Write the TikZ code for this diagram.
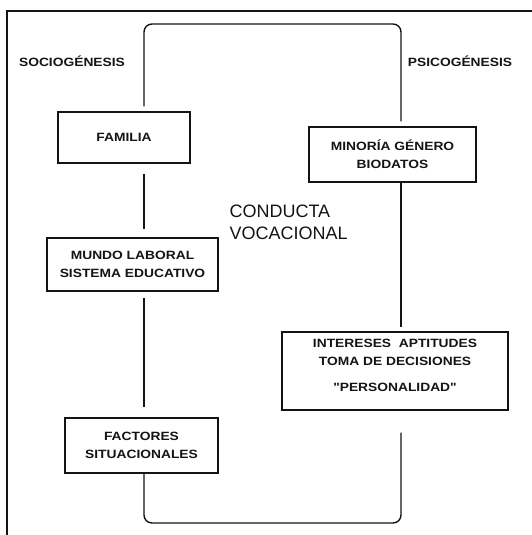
\documentclass[tikz,border=0pt]{standalone}
\usepackage{fontspec}
\setmainfont{Liberation Sans}
\newfontfamily\widefont[FakeStretch=1.15]{Liberation Sans}
\usetikzlibrary{positioning, calc}
\definecolor{inkgray}{HTML}{141414}

\begin{document}
\begin{tikzpicture}[
    x=1pt, y=-1pt,
    factor/.style={draw=inkgray, line width=1.4pt, align=center, inner sep=2pt, font=\widefont\bfseries\fontsize{12}{18}\selectfont, text=inkgray},
    spine/.style={draw=inkgray, line width=1.4pt, rounded corners=8pt},
    side/.style={font=\widefont\bfseries\fontsize{12}{14}\selectfont, text=inkgray},
    core/.style={font=\fontsize{18}{22}\selectfont, align=left, text=inkgray},
]
\useasboundingbox (0,0) rectangle (532,535);

% Outer frame
\draw[inkgray, line width=1.4pt] (7,535) -- (7,11) -- (532,11);

% Corners of the loop
\coordinate (nw) at (144,24);
\coordinate (ne) at (401,24);
\coordinate (sw) at (144,523);
\coordinate (se) at (401,523);

% Sociogenesis side
\node[factor, minimum width=132pt, minimum height=51pt] (familia) at (124,137.5) {FAMILIA};
\node[factor, minimum width=171pt, minimum height=53pt] (mundo) at (132.5,264.5) {MUNDO LABORAL\\SISTEMA EDUCATIVO};
\node[factor, minimum width=153pt, minimum height=55pt] (factores) at (141.5,445.5) {FACTORES\\SITUACIONALES};

% Psicogenesis side
\node[factor, minimum width=167pt, minimum height=55pt] (minoria) at (392.5,154.5) {MINORÍA GÉNERO\\BIODATOS};
\node[factor, minimum width=226pt, minimum height=78pt] (intereses) at (395,371) {INTERESES~~APTITUDES\\TOMA DE DECISIONES\\[8pt]"PERSONALIDAD"\\[-6pt]};

% Labels
\node[side] (socio) at (72,61) {SOCIOGÉNESIS};
\node[side] (psico) at (460,61) {PSICOGÉNESIS};
\node[core, anchor=west] (conducta) at (226,222) {CONDUCTA\\VOCACIONAL};

% Loop
\draw[spine, shorten <=5pt, shorten >=5pt] (familia.north -| nw) -- (nw) -- (ne) -- (minoria.north -| ne);
\draw[spine, shorten >=22pt] (factores.south -| sw) -- (sw) -- (se) -- (intereses.south -| se);
\draw[spine, shorten <=10pt, shorten >=8pt] (familia.south -| nw) -- (mundo.north -| nw);
\draw[spine, shorten <=6pt, shorten >=10pt] (mundo.south -| nw) -- (factores.north -| nw);
\draw[spine, shorten >=4pt] (minoria.south -| ne) -- (intereses.north -| ne);

\end{tikzpicture}
\end{document}
